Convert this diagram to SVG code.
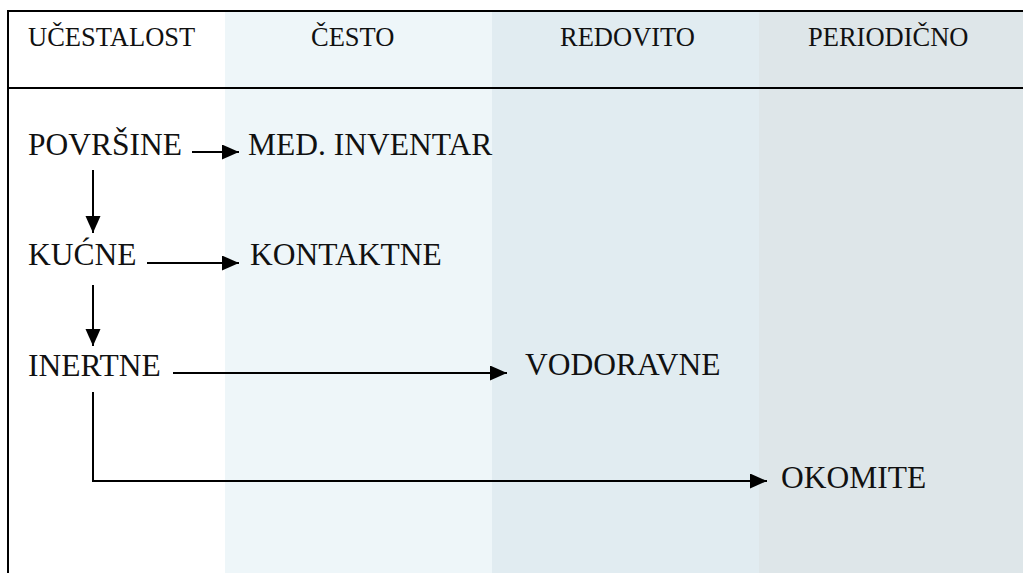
<svg xmlns="http://www.w3.org/2000/svg" width="1023" height="573" viewBox="0 0 1023 573">
<style>
.t{font-family:"Liberation Serif","Times New Roman",serif;fill:#111;}
.h{font-size:26.5px;}
.b{font-size:31.5px;}
.ln{stroke:#000;stroke-width:2;fill:none;}
.c{stroke:#000;stroke-width:2;fill:none;}
</style>
<defs>
<marker id="ah" markerWidth="18" markerHeight="16" refX="17" refY="7.5" orient="auto" markerUnits="userSpaceOnUse">
<path d="M0,0 L17,7.5 L0,15 Z" fill="#000"/>
</marker>
</defs>
<g id="background">
<rect x="0" y="0" width="1023" height="573" fill="#fff"/>
<rect x="225" y="11" width="267" height="562" fill="#EEF6F9"/>
<rect x="492" y="11" width="267" height="562" fill="#E1ECF1"/>
<rect x="759" y="11" width="264" height="562" fill="#DEE6E9"/>
</g>
<g id="frame">
<line class="ln" x1="8" y1="11" x2="1023" y2="11"/>
<line class="ln" x1="8" y1="88" x2="1023" y2="88"/>
<line class="ln" x1="8" y1="10" x2="8" y2="573"/>
</g>
<g id="header">
<text class="t h" x="28" y="46">UČESTALOST</text>
<text class="t h" x="311" y="46">ČESTO</text>
<text class="t h" x="560" y="46">REDOVITO</text>
<text class="t h" x="808" y="46">PERIODIČNO</text>
</g>
<g id="node-povrsine"><text class="t b" x="28" y="155">POVRŠINE</text></g>
<g id="node-med-inventar"><text class="t b" x="248" y="155">MED. INVENTAR</text></g>
<g id="node-kucne"><text class="t b" x="28" y="265">KUĆNE</text></g>
<g id="node-kontaktne"><text class="t b" x="250" y="265">KONTAKTNE</text></g>
<g id="node-inertne"><text class="t b" x="28" y="376">INERTNE</text></g>
<g id="node-vodoravne"><text class="t b" x="525" y="375">VODORAVNE</text></g>
<g id="node-okomite"><text class="t b" x="781" y="488">OKOMITE</text></g>
<g id="connectors">
<line class="c" x1="192" y1="152" x2="239" y2="152" marker-end="url(#ah)"/>
<line class="c" x1="93" y1="170" x2="93" y2="233" marker-end="url(#ah)"/>
<line class="c" x1="147" y1="263" x2="239" y2="263" marker-end="url(#ah)"/>
<line class="c" x1="93" y1="285" x2="93" y2="346" marker-end="url(#ah)"/>
<line class="c" x1="173" y1="373" x2="507" y2="373" marker-end="url(#ah)"/>
<polyline class="c" points="93,392 93,481 767,481" marker-end="url(#ah)"/>
</g>
</svg>
